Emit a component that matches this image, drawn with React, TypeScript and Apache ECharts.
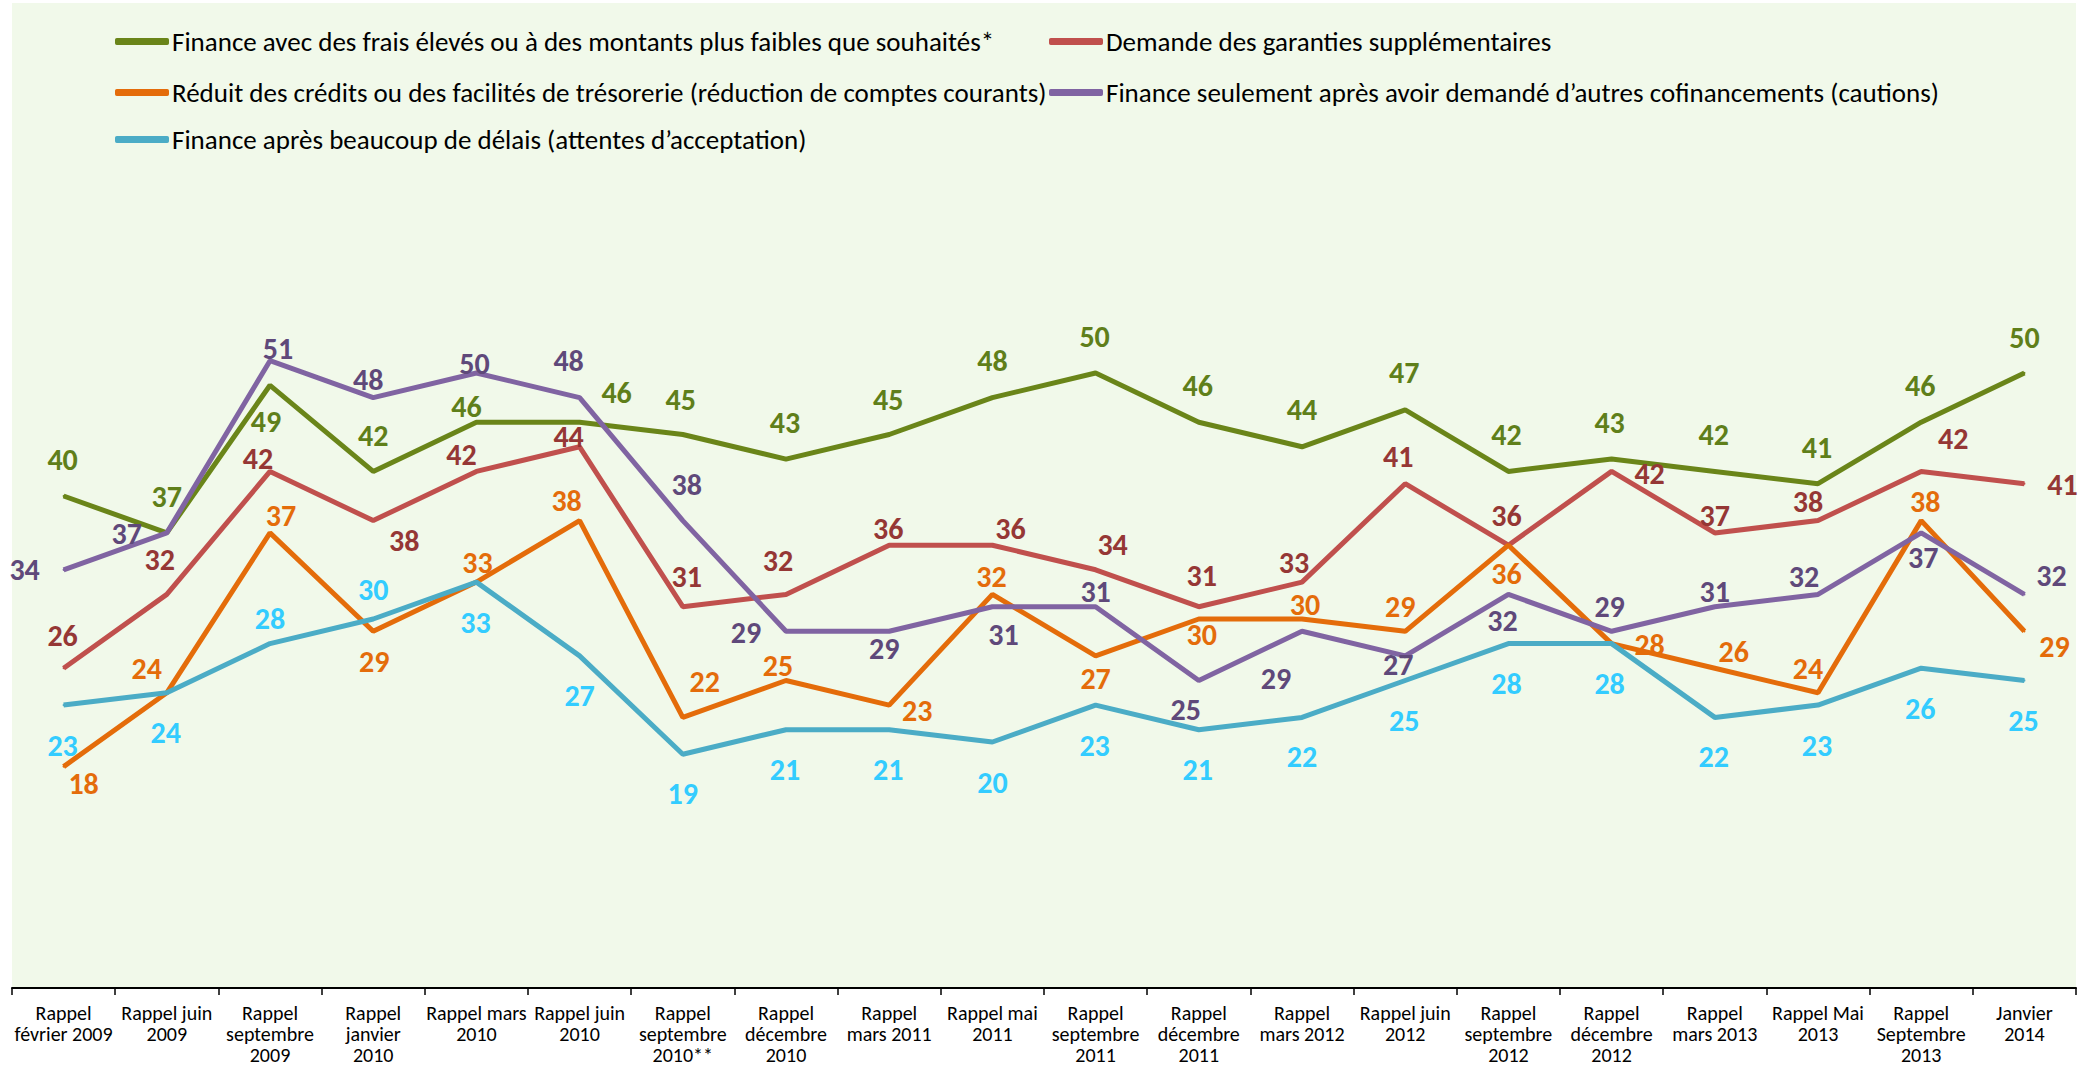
import React, { useEffect, useRef } from "react";
import * as echarts from "echarts";

const categories = [
  "Rappel\nfévrier 2009",
  "Rappel juin\n2009",
  "Rappel\nseptembre\n2009",
  "Rappel\njanvier\n2010",
  "Rappel mars\n2010",
  "Rappel juin\n2010",
  "Rappel\nseptembre\n2010**",
  "Rappel\ndécembre\n2010",
  "Rappel\nmars 2011",
  "Rappel mai\n2011",
  "Rappel\nseptembre\n2011",
  "Rappel\ndécembre\n2011",
  "Rappel\nmars 2012",
  "Rappel juin\n2012",
  "Rappel\nseptembre\n2012",
  "Rappel\ndécembre\n2012",
  "Rappel\nmars 2013",
  "Rappel Mai\n2013",
  "Rappel\nSeptembre\n2013",
  "Janvier\n2014",
];

const seriesNames = [
  "Finance avec des frais élevés ou à des montants plus faibles que souhaités*",
  "Demande des garanties supplémentaires",
  "Réduit des crédits ou des facilités de trésorerie (réduction de comptes courants)",
  "Finance seulement après avoir demandé d’autres cofinancements (cautions)",
  "Finance après beaucoup de délais (attentes d’acceptation)",
];

const financeFrais = [40, 37, 49, 42, 46, 46, 45, 43, 45, 48, 50, 46, 44, 47, 42, 43, 42, 41, 46, 50];
const garanties = [26, 32, 42, 38, 42, 44, 31, 32, 36, 36, 34, 31, 33, 41, 36, 42, 37, 38, 42, 41];
const reduitCredits = [18, 24, 37, 29, 33, 38, 22, 25, 23, 32, 27, 30, 30, 29, 36, 28, 26, 24, 38, 29];
const cofinancements = [34, 37, 51, 48, 50, 48, 38, 29, 29, 31, 31, 25, 29, 27, 32, 29, 31, 32, 37, 32];
const delais = [23, 24, 28, 30, 33, 27, 19, 21, 21, 20, 23, 21, 22, 25, 28, 28, 22, 23, 26, 25];

// label placement offsets (pixels from the point), per series
const offG = [[-1,-37],[0,-36],[-4,36],[0,-36],[-10,-16],[37,-30],[-2,-35],[-1,-37],[-1,-35],[0,-37],[-1,-37],[-1,-37],[0,-37],[-1,-37],[-2,-37],[-2,-37],[-1,-37],[-1,-36],[-1,-37],[0,-36]];
const offR = [[-1,-33],[-7,-35],[-12,-13],[31,20],[-15,-17],[-11,-10],[4,-30],[-8,-34],[-1,-17],[18,-17],[17,-25],[3,-31],[-8,-20],[-7,-27],[-2,-30],[38,2],[0,-17],[-10,-19],[32,-33],[38,1]];
const offO = [[20,17],[-20,-24],[11,-17],[1,30],[1,-20],[-13,-20],[22,-36],[-8,-15],[28,5],[-1,-18],[0,23],[3,15],[3,-15],[-5,-25],[-2,28],[38,1],[19,-17],[-10,-24],[4,-19],[30,15]];
const offP = [[-39,0],[-40,1],[8,-12],[-5,-18],[-2,-10],[-11,-37],[4,-36],[-40,1],[-5,17],[11,28],[0,-15],[-13,29],[-26,47],[-7,9],[-6,26],[-2,-25],[0,-15],[-14,-18],[2,25],[27,-19]];
const offC = [[-1,40],[-1,40],[0,-25],[0,-30],[-1,40],[0,40],[0,39],[-1,40],[-1,40],[0,40],[-1,40],[-1,40],[0,39],[-1,40],[-2,40],[-2,40],[-1,39],[-1,40],[-1,40],[-1,40]];

const FONT = "Carlito, 'Liberation Sans Narrow', 'DejaVu Sans Condensed', 'Open Sans', sans-serif";

const styles = [
  { line: "#6a8519", label: "#5f7f1a", data: financeFrais, off: offG },
  { line: "#c0504d", label: "#953735", data: garanties, off: offR },
  { line: "#e46c0a", label: "#e46c0a", data: reduitCredits, off: offO },
  { line: "#8064a2", label: "#5f497a", data: cofinancements, off: offP },
  { line: "#4bacc6", label: "#33ccff", data: delais, off: offC },
];

const legendPos = [
  { left: 110, top: 23 },
  { left: 1044, top: 23 },
  { left: 110, top: 74 },
  { left: 1044, top: 74 },
  { left: 110, top: 121 },
];

export default function App() {
  const ref = useRef<HTMLDivElement>(null);
  useEffect(() => {
    if (!ref.current) return;
    const chart = echarts.init(ref.current, undefined, { renderer: "svg" });
    const series = styles.map((s, k) => ({
      name: seriesNames[k],
      type: "line",
      data: s.data.map((v, i) => ({
        value: v,
        label: { offset: s.off[i] },
      })),
      symbol: "circle",
      symbolSize: 2,
      showSymbol: true,
      itemStyle: { color: s.line },
      lineStyle: { color: s.line, width: 5 },
      label: {
        show: true,
        position: "inside",
        color: s.label,
        fontFamily: FONT,
        fontWeight: "bold",
        fontSize: 30,
        lineHeight: 22,
      },
      z: 2 + k,
    }));
    const legends = styles.map((s, k) => ({
      data: [seriesNames[k]],
      left: legendPos[k].left,
      top: legendPos[k].top,
      icon: "roundRect",
      itemWidth: 54,
      itemHeight: 7,
      selectedMode: false,
      textStyle: { color: "#000", fontSize: 27, fontFamily: FONT, padding: [0, 0, 0, -2] },
    }));
    chart.setOption({
      animation: false,
      backgroundColor: "#ffffff",
      graphic: [
        {
          type: "rect",
          silent: true,
          z: -100,
          shape: { x: 12, y: 3, width: 2064, height: 985 },
          style: { fill: "#f1f9ea" },
        },
      ],
      legend: legends,
      grid: { left: 12, right: 22, top: 250, bottom: 78, containLabel: false },
      xAxis: {
        type: "category",
        data: categories,
        boundaryGap: true,
        axisLine: { lineStyle: { color: "#000", width: 2 } },
        axisTick: { show: true, length: 7, lineStyle: { color: "#000", width: 1.5 } },
        axisLabel: {
          interval: 0,
          color: "#000",
          fontSize: 20,
          lineHeight: 21,
          margin: 14,
          fontFamily: FONT,
        },
      },
      yAxis: {
        type: "value",
        min: 0,
        max: 60,
        show: false,
        splitLine: { show: false },
      },
      series,
    });
    return () => chart.dispose();
  }, []);
  return (
    <div
      ref={ref}
      style={{ position: "absolute", left: 0, top: 0, width: 2098, height: 1066 }}
    />
  );
}
